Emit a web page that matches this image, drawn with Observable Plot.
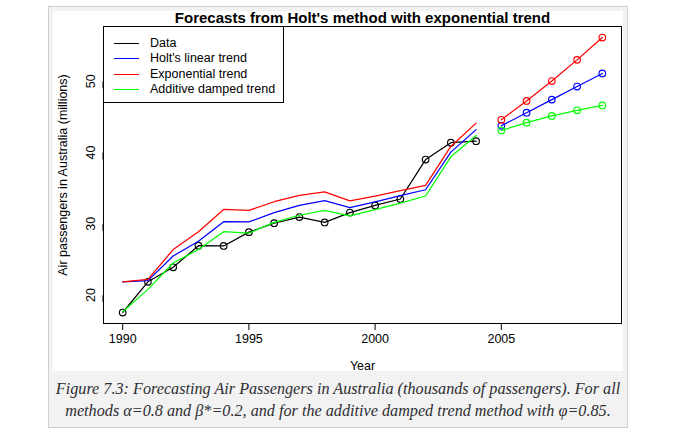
<!DOCTYPE html>
<html>
<head>
<meta charset="utf-8">
<script src="https://cdn.jsdelivr.net/npm/d3@7"></script>
<script src="https://cdn.jsdelivr.net/npm/@observablehq/plot@0.6"></script>
<style>
  html, body { margin: 0; padding: 0; background: #ffffff; }
  #fig {
    position: absolute; left: 48px; top: 6px; width: 578px; height: 420px;
    background: #f2f2f2; border: 1px solid #cfcfcf;
  }
  #img { position: absolute; left: 4px; top: 4px; width: 570px; height: 360px; background: #fff; }
  #legend {
    position: absolute; left: 50px; top: 15px; width: 179px; height: 75px;
    border: 1px solid #000; background: #fff;
    font-family: "Liberation Sans", Arial, sans-serif; font-size: 12.5px; color: #000;
  }
  .row { position: absolute; left: 0; height: 14px; width: 100%; }
  .sw { position: absolute; left: 10px; width: 25px; top: 7px; height: 0; border-top: 1.3px solid; }
  .lb { position: absolute; left: 46px; top: 0; line-height: 14px; white-space: nowrap; }
  #caption {
    position: absolute; left: -10px; width: 598px; top: 371px; text-align: center;
    font-family: "Liberation Serif", "DejaVu Serif", serif; font-style: italic;
    font-size: 16.2px; line-height: 22px; color: #2e2e33;
  }
  #caption div { white-space: nowrap; }
</style>
</head>
<body>
<div id="fig">
  <div id="img"></div>
  <div id="caption"></div>
</div>
<script>
// ---- data ----
const years = [1990, 1991, 1992, 1993, 1994, 1995, 1996, 1997, 1998, 1999, 2000, 2001, 2002, 2003, 2004];
const passengers = [17.55, 21.86, 23.89, 26.93, 26.89, 28.83, 30.08, 30.95, 30.19, 31.58, 32.58, 33.48, 39.02, 41.39, 41.60];
const holtFitted = [21.86, 22.03, 25.48, 27.54, 30.29, 30.26, 31.58, 32.60, 33.24, 32.27, 33.08, 33.96, 34.78, 40.06, 43.22];
const expFitted = [21.86, 22.21, 26.38, 28.89, 32.02, 31.88, 33.10, 33.99, 34.47, 33.23, 33.89, 34.66, 35.39, 40.86, 44.13];
const dampFitted = [17.66, 20.80, 24.50, 26.40, 28.90, 28.70, 30.20, 31.20, 31.90, 31.10, 32.00, 32.90, 33.90, 39.40, 42.40];
const forecastYears = [2005, 2006, 2007, 2008, 2009];
const holtForecast = [43.76, 45.59, 47.43, 49.27, 51.10];
const expForecast = [44.60, 47.24, 50.04, 53.01, 56.15];
const dampForecast = [43.10, 44.20, 45.14, 45.93, 46.61];

const xTicks = [1990, 1995, 2000, 2005];
const yTicks = [20, 30, 40, 50];
const titleText = "Forecasts from Holt's method with exponential trend";
const xLabel = "Year";
const yLabel = "Air passengers in Australia (millions)";
const legendLabels = ["Data", "Holt's linear trend", "Exponential trend", "Additive damped trend"];
const legendColors = ["#000000", "#0000ff", "#ff0000", "#00ff00"];
const captionLines = [
  "Figure 7.3: Forecasting Air Passengers in Australia (thousands of passengers). For all",
  "methods \u03b1=0.8 and \u03b2*=0.2, and for the additive damped trend method with \u03c6=0.85."
];

// ---- tables ----
const toRows = (xs, vs) => xs.map((x, i) => ({x, y: vs[i]}));
const dataRows = toRows(years, passengers);
const holtFitRows = toRows(years, holtFitted);
const expFitRows = toRows(years, expFitted);
const dampFitRows = toRows(years, dampFitted);
const holtFcRows = toRows(forecastYears, holtForecast);
const expFcRows = toRows(forecastYears, expForecast);
const dampFcRows = toRows(forecastYears, dampForecast);

// R-style 4% expanded domains
const allX = years.concat(forecastYears);
const allY = passengers.concat(holtFitted, expFitted, dampFitted, holtForecast, expForecast, dampForecast);
const pad = ([a, b]) => [a - (b - a) * 0.04, b + (b - a) * 0.04];
const xDom = pad(d3.extent(allX));
const yDom = pad(d3.extent(allY));

const lw = 1.25;
const fs = 12.5;
const dotOpts = (c) => ({x: "x", y: "y", r: 3.3, stroke: c, fill: "none", strokeWidth: 1.15});

const chart = Plot.plot({
  width: 570,
  height: 360,
  marginTop: 15,
  marginRight: 2,
  marginBottom: 48,
  marginLeft: 50,
  style: {background: "#fff", fontFamily: "Liberation Sans, Arial, sans-serif", fontSize: "12.5px", color: "#000", overflow: "visible"},
  x: {domain: xDom},
  y: {domain: yDom},
  marks: [
    Plot.axisX({ticks: xTicks, tickSize: 7, tickPadding: 4, tickFormat: d3.format("d"), label: null, fontSize: fs}),
    Plot.axisY({ticks: yTicks, tickSize: 7, tickPadding: 6, rotate: -90, textAnchor: "middle", tickFormat: d3.format("d"), label: null, fontSize: fs}),
    Plot.frame({stroke: "#000", strokeWidth: 1}),
    // data
    Plot.line(dataRows, {x: "x", y: "y", stroke: "#000", strokeWidth: lw}),
    Plot.dot(dataRows, dotOpts("#000")),
    // fitted
    Plot.line(holtFitRows, {x: "x", y: "y", stroke: "#0000ff", strokeWidth: lw}),
    Plot.line(expFitRows, {x: "x", y: "y", stroke: "#ff0000", strokeWidth: lw}),
    Plot.line(dampFitRows, {x: "x", y: "y", stroke: "#00ff00", strokeWidth: lw}),
    // forecasts
    Plot.line(holtFcRows, {x: "x", y: "y", stroke: "#0000ff", strokeWidth: lw}),
    Plot.dot(holtFcRows, dotOpts("#0000ff")),
    Plot.line(expFcRows, {x: "x", y: "y", stroke: "#ff0000", strokeWidth: lw}),
    Plot.dot(expFcRows, dotOpts("#ff0000")),
    Plot.line(dampFcRows, {x: "x", y: "y", stroke: "#00ff00", strokeWidth: lw}),
    Plot.dot(dampFcRows, dotOpts("#00ff00")),
    // texts
    Plot.text([titleText], {text: d => d, frameAnchor: "top", lineAnchor: "bottom", dy: -3.5, fontWeight: "bold", fontSize: 15, fill: "#000"}),
    Plot.text([xLabel], {text: d => d, frameAnchor: "bottom", lineAnchor: "bottom", dy: 46, fontSize: fs, fill: "#000"}),
    Plot.text([yLabel], {text: d => d, frameAnchor: "left", rotate: -90, textAnchor: "middle", lineAnchor: "bottom", dx: -37, fontSize: fs, fill: "#000"})
  ]
});
document.getElementById("img").appendChild(chart);

// legend
const leg = document.createElement("div");
leg.id = "legend";
legendLabels.forEach((lab, i) => {
  const row = document.createElement("div");
  row.className = "row";
  row.style.top = (8.5 + i * 15.5) + "px";
  const sw = document.createElement("div");
  sw.className = "sw";
  sw.style.borderTopColor = legendColors[i];
  const lb = document.createElement("div");
  lb.className = "lb";
  lb.textContent = lab;
  row.appendChild(sw);
  row.appendChild(lb);
  leg.appendChild(row);
});
document.getElementById("img").appendChild(leg);

// caption
const cap = document.getElementById("caption");
captionLines.forEach(t => { const d = document.createElement("div"); d.textContent = t; cap.appendChild(d); });
</script>
</body>
</html>
